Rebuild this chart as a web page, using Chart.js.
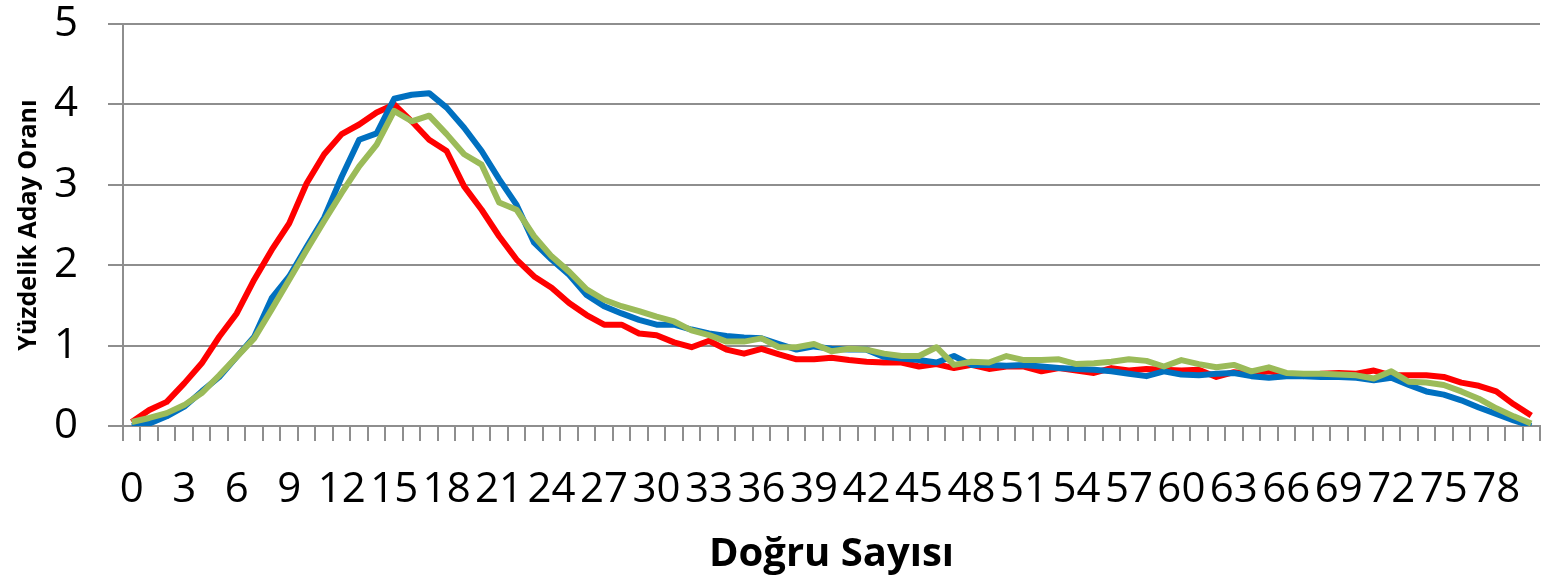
<!DOCTYPE html>
<html>
<head>
<meta charset="utf-8">
<script src="https://cdn.jsdelivr.net/npm/chart.js@4"></script>
<style>
  html, body { margin: 0; padding: 0; background: #fff; }
  #wrap { width: 1548px; height: 581px; }
</style>
</head>
<body>
<div id="wrap"><canvas id="chart" width="1548" height="581"></canvas></div>
<script>
// x categories (number of correct answers)
const categories = [0,1,2,3,4,5,6,7,8,9,10,11,12,13,14,15,16,17,18,19,20,21,22,23,24,25,26,27,28,29,30,
  31,32,33,34,35,36,37,38,39,40,41,42,43,44,45,46,47,48,49,50,51,52,53,54,55,56,57,58,59,60,
  61,62,63,64,65,66,67,68,69,70,71,72,73,74,75,76,77,78,79,80];

// series values
const redValues = [0.05,0.2,0.3,0.53,0.78,1.11,1.4,1.82,2.19,2.52,3.02,3.38,3.63,3.75,3.9,4.0,
  3.79,3.56,3.42,2.98,2.69,2.36,2.07,1.86,1.72,1.53,1.38,1.26,1.26,1.15,1.13,1.04,
  0.98,1.06,0.95,0.9,0.96,0.89,0.83,0.83,0.85,0.82,0.8,0.79,0.79,0.74,0.77,0.72,0.76,0.71,0.74,0.74,0.68,0.72,0.69,0.66,0.72,
  0.69,0.71,0.70,0.69,0.70,0.61,0.67,0.65,0.68,0.65,0.62,0.65,0.66,0.65,0.69,0.63,0.63,0.63,0.61,0.54,0.5,0.43,0.27,0.13];
const blueValues = [0.0,0.03,0.12,0.24,0.43,0.61,0.86,1.11,1.59,1.86,2.23,2.59,3.1,3.56,3.64,4.07,
  4.12,4.14,3.96,3.71,3.42,3.07,2.75,2.28,2.07,1.88,1.63,1.49,1.4,1.32,1.26,1.26,
  1.2,1.15,1.12,1.1,1.09,1.02,0.95,0.99,0.96,0.95,0.95,0.86,0.84,0.82,0.79,0.87,0.76,0.76,0.75,0.76,0.74,0.72,0.71,0.70,0.68,
  0.65,0.62,0.68,0.64,0.63,0.65,0.66,0.62,0.6,0.62,0.62,0.61,0.61,0.6,0.57,0.6,0.51,0.43,0.39,0.32,0.23,0.15,0.07,0.0];
const greenValues = [0.05,0.1,0.16,0.26,0.41,0.63,0.86,1.09,1.45,1.82,2.19,2.55,2.9,3.23,3.5,3.92,
  3.79,3.86,3.63,3.38,3.25,2.78,2.69,2.36,2.11,1.92,1.7,1.57,1.49,1.43,1.36,1.3,
  1.19,1.13,1.05,1.05,1.09,0.98,0.98,1.02,0.93,0.96,0.95,0.9,0.87,0.87,0.98,0.76,0.8,0.79,0.87,0.82,0.82,0.83,0.77,0.78,0.80,
  0.83,0.81,0.74,0.82,0.77,0.73,0.76,0.68,0.73,0.66,0.65,0.65,0.64,0.63,0.59,0.68,0.55,0.54,0.51,0.43,0.34,0.22,0.12,0.03];

const yTicks = [0, 1, 2, 3, 4, 5];

const gridColor = '#8e8e8e';
const font = "'Open Sans', 'Noto Sans', sans-serif";

function line(values, color, order) {
  return {
    data: values,
    borderColor: color,
    backgroundColor: color,
    borderWidth: 6,
    pointRadius: 0,
    tension: 0,
    borderJoinStyle: 'round',
    fill: false,
    order: order
  };
}

new Chart(document.getElementById('chart').getContext('2d'), {
  type: 'line',
  data: {
    labels: categories,
    datasets: [
      line(redValues, '#ff0000', 3),
      line(blueValues, '#0070c0', 2),
      line(greenValues, '#9bbb59', 1)
    ]
  },
  options: {
    responsive: false,
    animation: false,
    layout: { padding: { top: 24, right: 8, left: 0, bottom: 0 } },
    plugins: { legend: { display: false }, tooltip: { enabled: false } },
    scales: {
      x: {
        offset: true,
        grid: { offset: true, drawOnChartArea: false, drawTicks: true, tickLength: 15, color: gridColor, lineWidth: 2 },
        border: { color: gridColor, width: 2 },
        ticks: {
          autoSkip: false, maxRotation: 0, minRotation: 0, padding: 24,
          color: '#000', font: { family: font, size: 42 },
          callback: function (val, idx) { return idx % 3 === 0 ? String(categories[idx]) : ''; }
        },
        title: {
          display: true, text: 'Doğru Sayısı', color: '#000',
          font: { family: font, size: 40, weight: 'bold' },
          padding: { top: 0, bottom: 2 }
        },
        afterFit: function (scale) {
          scale.height = 155;
          scale.paddingRight = 0;
        }
      },
      y: {
        min: 0, max: 5,
        afterBuildTicks: function (scale) { scale.ticks = yTicks.map(v => ({ value: v })); },
        grid: { color: gridColor, lineWidth: 2, tickLength: 15 },
        border: { color: gridColor, width: 2 },
        ticks: { color: '#000', padding: 30, font: { family: font, size: 42 } },
        title: {
          display: true, text: 'Yüzdelik Aday Oranı', color: '#000',
          font: { family: font, size: 25, weight: 'bold' },
          padding: { top: 14, bottom: 0 }
        },
        afterFit: function (scale) {
          scale.width = 123;
          scale.paddingTop = 0;
          scale.paddingBottom = 0;
        }
      }
    }
  }
});
</script>
</body>
</html>
